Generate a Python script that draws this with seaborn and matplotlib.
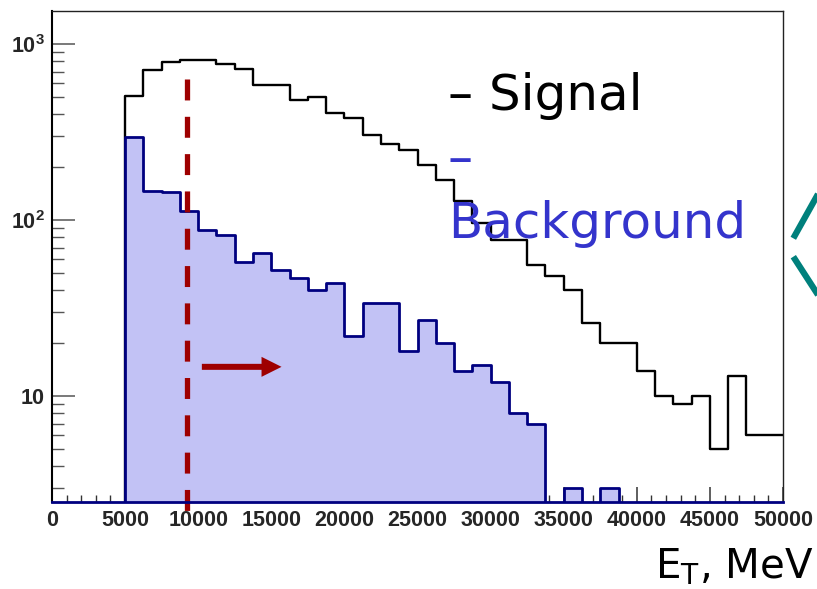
import numpy as np
import pandas as pd
import matplotlib
matplotlib.use("Agg")
import matplotlib.pyplot as plt
from matplotlib.lines import Line2D
from matplotlib.patches import ArrowStyle
from matplotlib.ticker import FixedLocator, FixedFormatter, NullFormatter
import seaborn as sns

# Transverse-energy histograms: 40 bins of 1250 MeV from 0 to 50000 MeV
bin_width = 1250
energy_range = (0, 50000)
bin_edges = np.arange(energy_range[0], energy_range[1] + 1, bin_width)
bin_centers = 0.5 * (bin_edges[:-1] + bin_edges[1:])

signal_counts = [0, 0, 0, 0, 511, 714, 796, 811, 811, 770,
                 721, 585, 585, 483, 504, 405, 383, 305, 273, 251,
                 207, 169, 129, 96, 77, 77, 56, 48, 40, 26,
                 20, 20, 14, 10, 9, 10, 5, 13, 6, 6]
background_counts = [0, 0, 0, 0, 298, 147, 144, 113, 88, 82,
                     58, 65, 52, 47, 40, 44, 22, 34, 34, 18,
                     27, 20, 14, 15, 12, 8, 7, 0, 3, 0,
                     3, 0, 0, 0, 0, 0, 0, 0, 0, 0]

x_ticks = [0, 5000, 10000, 15000, 20000, 25000, 30000, 35000, 40000, 45000, 50000]
x_tick_labels = [str(v) for v in x_ticks]
y_ticks = [10, 100, 1000]
y_tick_labels = ["10", r"10$^{2}$", r"10$^{3}$"]

cut_energy = 9200          # selection threshold, MeV
cut_line_top = 635
cut_line_bottom = 2.2
arrow_start = 10250
arrow_end = 15700
arrow_level = 14.7

hist_df = pd.DataFrame({"energy": bin_centers,
                        "signal": signal_counts,
                        "background": background_counts})

sns.set_style("ticks")
plt.rcParams["font.family"] = ["DejaVu Sans"]
plt.rcParams["mathtext.fontset"] = "custom"
plt.rcParams["mathtext.rm"] = "Liberation Sans:bold"
plt.rcParams["mathtext.sf"] = "DejaVu Sans"
plt.rcParams["mathtext.default"] = "rm"

fig = plt.figure(figsize=(8.17, 5.89), dpi=100)
ax = fig.add_axes([52 / 817, 1 - 502 / 589, (783 - 52) / 817, (502 - 11) / 589])

# Signal: open black step histogram
sns.histplot(data=hist_df, x="energy", weights="signal", binwidth=bin_width,
             binrange=energy_range, element="step", fill=False, color="black",
             linewidth=1.7, ax=ax, zorder=2)
# Background: filled blue step histogram with navy outline
sns.histplot(data=hist_df, x="energy", weights="background", binwidth=bin_width,
             binrange=energy_range, element="step", fill=True,
             facecolor="#c2c2f5", edgecolor="#000080", linewidth=2.0, alpha=1,
             ax=ax, zorder=3)

ax.set_yscale("log")
ax.set_xlim(*energy_range)
ax.set_ylim(2.508, 1546)
ax.set_xlabel("")
ax.set_ylabel("")

# Cut position and selection direction
ax.plot([cut_energy, cut_energy], [cut_line_top, cut_line_bottom], color="#9e0000",
        lw=3.8, dashes=(3.97, 3.1), solid_capstyle="butt", dash_capstyle="butt",
        clip_on=False, zorder=5)
ax.annotate("", xy=(arrow_end, arrow_level), xytext=(arrow_start, arrow_level),
            arrowprops=dict(arrowstyle=ArrowStyle.Simple(head_length=1.0, head_width=1.0,
                                                         tail_width=0.3),
                            mutation_scale=14.4, color="#9e0000", lw=0,
                            shrinkA=0, shrinkB=0),
            zorder=5)

# Axis frame and ticks
for side in ("top", "right"):
    ax.spines[side].set_visible(True)
    ax.spines[side].set_linewidth(1.0)
    ax.spines[side].set_color("#222222")
ax.spines["left"].set_linewidth(1.5)
ax.spines["left"].set_color("black")
ax.spines["bottom"].set_linewidth(2.0)
ax.spines["bottom"].set_color("#000080")
ax.spines["bottom"].set_zorder(6)

ax.xaxis.set_major_locator(FixedLocator(x_ticks))
ax.xaxis.set_major_formatter(FixedFormatter(x_tick_labels))
ax.xaxis.set_minor_locator(FixedLocator(np.arange(0, 50001, 1000)))
ax.yaxis.set_major_locator(FixedLocator(y_ticks))
ax.yaxis.set_major_formatter(FixedFormatter(y_tick_labels))
minor_y = [m * 10 ** d for d in range(0, 4) for m in range(2, 10)]
ax.yaxis.set_minor_locator(FixedLocator(minor_y))
ax.yaxis.set_minor_formatter(NullFormatter())

ax.tick_params(axis="x", which="major", direction="in", length=10.8, width=1.1,
               color="#333333", pad=5.8, top=False, bottom=True)
ax.tick_params(axis="x", which="minor", direction="in", length=5.0, width=1.0,
               color="#333333", top=False, bottom=True)
ax.tick_params(axis="y", which="major", direction="in", length=16.6, width=1.1,
               color="#555555", pad=5.0, left=True, right=False)
ax.tick_params(axis="y", which="minor", direction="in", length=8.6, width=1.0,
               color="#555555", left=True, right=False)

for lab in ax.get_xticklabels() + ax.get_yticklabels():
    lab.set_fontfamily("Liberation Sans")
    lab.set_fontweight("bold")
    lab.set_fontsize(15.5)

# Legend written as coloured text
fig.text(448 / 817, 1 - 110 / 589, "\u2013 Signal", color="black", fontsize=36,
         ha="left", va="baseline")
fig.text(448 / 817, 1 - 174 / 589, "\u2013", color="#3434cc", fontsize=36,
         ha="left", va="baseline")
fig.text(448 / 817, 1 - 238 / 589, "Background", color="#3434cc", fontsize=36,
         ha="left", va="baseline")

# Axis title
fig.text(655 / 817, 1 - 578 / 589, r"E$_{\mathsf{T}}$, MeV", color="black",
         fontsize=29, ha="left", va="baseline")

# Decorative chevron at the right edge
for (x0, y0), (x1, y1) in [((793.3, 238.3), (820, 190.5)),
                           ((793.3, 256.7), (820, 298))]:
    fig.add_artist(Line2D([x0 / 817, x1 / 817], [1 - y0 / 589, 1 - y1 / 589],
                          transform=fig.transFigure, color="#00807c", lw=4.5,
                          solid_capstyle="butt"))

fig.savefig("out.png", dpi=100)
